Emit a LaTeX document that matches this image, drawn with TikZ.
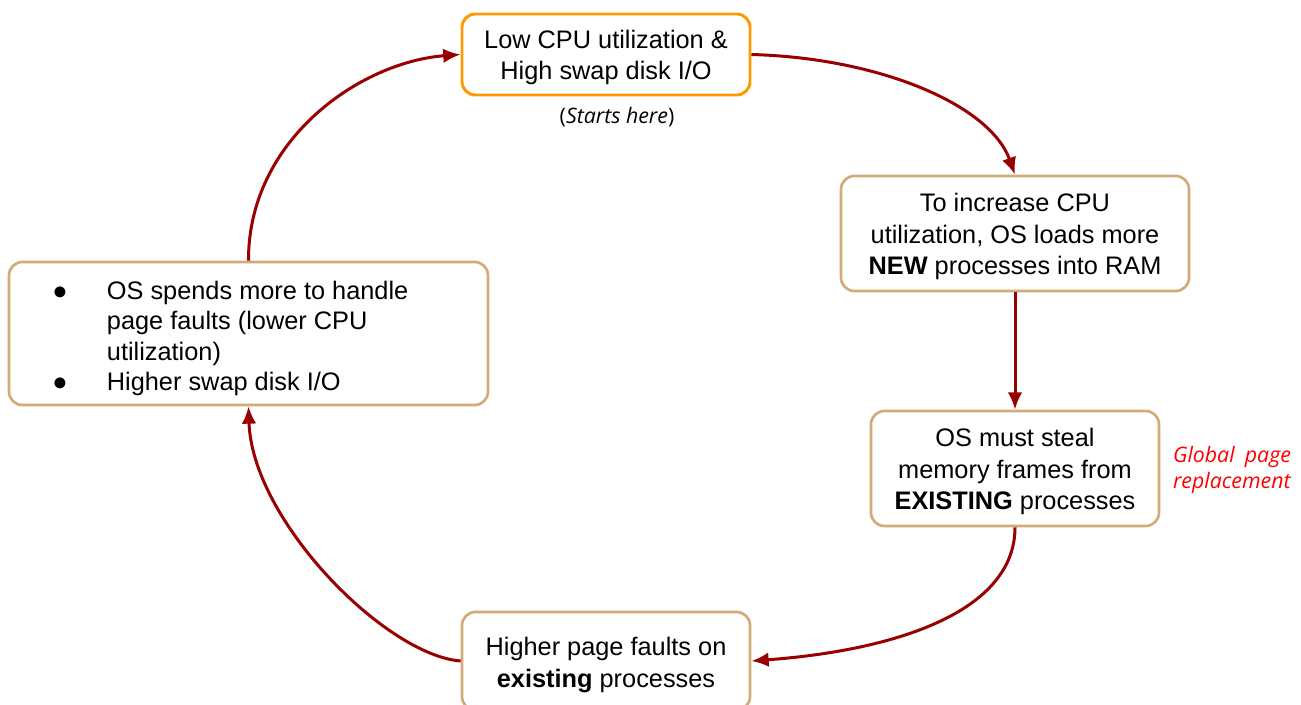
\documentclass[tikz,border=0pt]{standalone}
\usepackage{fontspec}
\setmainfont{Liberation Sans}
\newfontfamily\notefont{Open Sans}
\usetikzlibrary{arrows.meta}
\definecolor{boxorange}{HTML}{FF9900}
\definecolor{boxtan}{HTML}{D4AA78}
\definecolor{flowred}{HTML}{990000}
\definecolor{notered}{HTML}{FF0000}
\begin{document}
\begin{tikzpicture}[x=0.75pt,y=-0.75pt,
  stepbox/.style={draw=boxtan,line width=2pt,rounded corners=10pt,fill=white,inner sep=0pt},
  startbox/.style={stepbox,draw=boxorange,line width=2.2pt},
  steptext/.style={align=center,inner sep=0pt,font=\fontsize{19}{23.3}\selectfont},
  flow/.style={draw=flowred,line width=2.25pt,-{Latex[length=13pt,width=11pt]}},
  note/.style={font=\notefont\fontsize{16}{20}\selectfont}]
\useasboundingbox (0,0) rectangle (1301,705);

% cycle steps: frames
\node[startbox,minimum width=216pt,minimum height=60.75pt] (start) at (606,54.5) {};
\node[stepbox,minimum width=261pt,minimum height=86.25pt] (load) at (1015,233.5) {};
\node[stepbox,minimum width=216pt,minimum height=86.25pt] (steal) at (1015,468.5) {};
\node[stepbox,minimum width=216pt,minimum height=73.5pt] (faults) at (606,661) {};
\node[stepbox,minimum width=359.25pt,minimum height=107.25pt] (spend) at (248.5,333.5) {};

% cycle steps: texts
\node[steptext] (starttext) at (606,57.5) {Low CPU utilization \&\\High swap disk I/O};
\node[steptext] (loadtext) at (1015,236.5)
  {To increase CPU\\utilization, OS loads more\\\textbf{NEW} processes into RAM};
\node[steptext] (stealtext) at (1015,471.5)
  {OS must steal\\memory frames from\\\textbf{EXISTING} processes};
\node[steptext] (faultstext) at (606,665) {Higher page faults on\\\textbf{existing} processes};
\node[steptext,anchor=west,align=left,font=\fontsize{19}{22.7}\selectfont] (spendtext) at (52,339)
  {\begin{tabular}{@{}p{41pt}@{}l@{}}
   ● & OS spends more to handle\\
     & page faults (lower CPU\\
     & utilization)\\
   ● & Higher swap disk I/O
   \end{tabular}};

% annotations
\node[note] (starthere) at (617,117) {(\textit{Starts here})};
\node[note,text=notered,text width=88.5pt,align=left] (global) at (1232,470)
  {\textit{Global\hfill page}\\\textit{replacement}};

% connectors
\draw[flow] (start.east) .. controls (880,58) and (990,105) .. (load.north);
\draw[flow] (load.south) -- (steal.north);
\draw[flow] (steal.south) .. controls (1015,610) and (900,650) .. (faults.east);
\draw[flow] (faults.west) .. controls (385,655) and (252,520) .. (spend.south);
\draw[flow] (spend.north) .. controls (248,140) and (360,62) .. (start.west);
\end{tikzpicture}
\end{document}
